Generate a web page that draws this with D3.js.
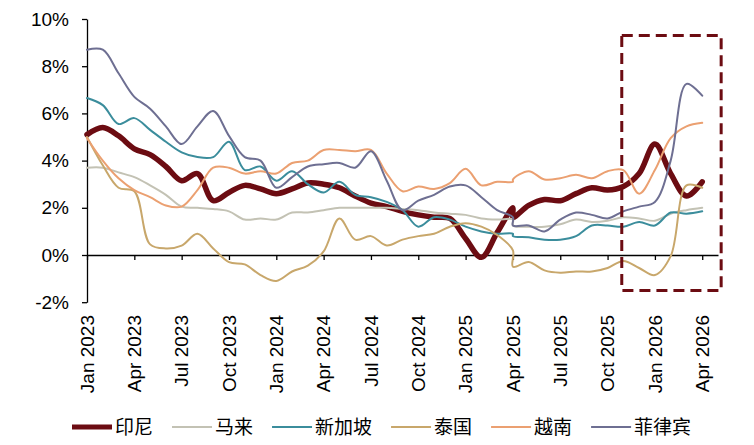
<!DOCTYPE html>
<html>
<head>
<meta charset="utf-8">
<script src="https://cdn.jsdelivr.net/npm/d3@7"></script>
<style>
  body { margin: 0; background: #fff; }
  svg text { font-family: "Liberation Sans", Arial, "Noto Sans CJK SC", sans-serif; fill: #000; }
  .legend text { font-family: "Noto Sans CJK SC", "Liberation Sans", sans-serif; }
</style>
</head>
<body>
<div id="chart"></div>
<script>
// months of the series; Apr 2025 appears twice (break between the two data runs)
const months = [
  "2023-01","2023-02","2023-03","2023-04","2023-05","2023-06","2023-07","2023-08","2023-09","2023-10","2023-11","2023-12",
  "2024-01","2024-02","2024-03","2024-04","2024-05","2024-06","2024-07","2024-08","2024-09","2024-10","2024-11","2024-12",
  "2025-01","2025-02","2025-03","2025-04","2025-04","2025-05","2025-06","2025-07","2025-08","2025-09","2025-10","2025-11","2025-12",
  "2026-01","2026-02","2026-03","2026-04"
];

const tickLabels = ["Jan 2023","Apr 2023","Jul 2023","Oct 2023","Jan 2024","Apr 2024","Jul 2024",
  "Oct 2024","Jan 2025","Apr 2025","Jul 2025","Oct 2025","Jan 2026","Apr 2026"];

const yTicks = [-2, 0, 2, 4, 6, 8, 10];

// values in %
const indonesia = [5.1,5.4,5.05,4.5,4.25,3.75,3.15,3.45,2.3,2.65,2.95,2.8,
  2.6,2.8,3.05,3.0,2.85,2.5,2.2,2.05,1.85,1.7,1.6,1.55,
  0.7,-0.1,0.95,2.0,1.6,2.1,2.35,2.3,2.6,2.85,2.75,2.9,3.45,
  4.7,3.45,2.5,3.1];
const malaysia = [3.7,3.7,3.5,3.3,2.95,2.55,2.05,2.0,1.95,1.85,1.5,1.55,
  1.5,1.8,1.8,1.9,2.0,2.0,2.0,2.0,1.95,1.9,1.8,1.75,
  1.7,1.55,1.5,1.5,1.25,1.2,1.2,1.3,1.5,1.4,1.45,1.6,1.55,
  1.45,1.75,1.9,2.0];
const singapore = [6.65,6.35,5.55,5.8,5.3,4.8,4.35,4.15,4.15,4.8,3.6,3.75,
  3.15,3.55,3.0,2.65,3.1,2.55,2.45,2.25,1.9,1.2,1.6,1.5,
  1.2,1.0,0.9,0.9,0.8,0.75,0.65,0.65,0.8,1.25,1.25,1.2,1.4,
  1.25,1.8,1.75,1.85];
const thailand = [5.0,3.8,2.85,2.7,0.45,0.28,0.4,0.9,0.28,-0.3,-0.4,-0.85,
  -1.1,-0.7,-0.45,0.15,1.55,0.65,0.8,0.4,0.65,0.8,0.9,1.2,
  1.35,1.2,0.85,0.2,-0.5,-0.3,-0.65,-0.75,-0.7,-0.7,-0.55,-0.25,-0.55,
  -0.85,-0.05,2.95,2.85];
const vietnam = [4.95,4.0,3.25,2.75,2.45,2.1,2.05,2.75,3.7,3.7,3.45,3.55,
  3.45,3.9,4.0,4.45,4.45,4.4,4.45,3.45,2.7,2.9,2.8,3.05,
  3.65,2.95,3.1,3.1,3.2,3.55,3.2,3.25,3.4,3.25,3.55,3.6,2.6,
  3.6,4.95,5.45,5.6];
const philippines = [8.7,8.7,7.7,6.7,6.2,5.45,4.7,5.45,6.1,5.05,4.15,4.0,
  2.85,3.3,3.75,3.85,3.9,3.7,4.4,3.15,1.9,2.3,2.55,2.9,
  2.95,2.45,1.9,1.6,1.25,1.25,1.0,1.5,1.8,1.7,1.55,1.85,2.05,
  2.25,4.0,7.25,6.75];

const seriesNames = ["印尼","马来","新加坡","泰国","越南","菲律宾"];
const seriesValues = [indonesia, malaysia, singapore, thailand, vietnam, philippines];
const seriesColors = ["#6c0c12","#c3c2b4","#3b8d9c","#c8a76b","#eba071","#6e6f92"];
const seriesWidths = [5.5, 2, 2, 2, 2, 2];

// highlighted window (month index / % units)
const highlight = { from: 33.9, to: 40.2, top: 9.3, bottom: -1.5 };

const width = 754, height = 445;

const svg = d3.select('#chart').append('svg')
  .attr('width', width)
  .attr('height', height);

const monthIndex = s => (+s.slice(0, 4) - 2023) * 12 + (+s.slice(5, 7) - 1);

const x = d3.scaleLinear().domain([0, 40]).range([87, 718]);
const y = d3.scaleLinear().domain([-2, 10]).range([302.2, 19]);

// y axis
const yAxis = svg.append('g')
  .attr('transform', `translate(${x(0)},0)`)
  .call(d3.axisLeft(y).tickValues(yTicks).tickSize(5).tickSizeOuter(0).tickPadding(13)
    .tickFormat(d => d + '%'));
yAxis.selectAll('text').style('font-size', '19px');

// x axis on the 0% line
const xAxis = svg.append('g')
  .attr('transform', `translate(0,${y(0)})`)
  .call(d3.axisBottom(x).tickValues(d3.range(0, 40, 3)).tickSize(5).tickSizeOuter(0).tickFormat(''));

svg.selectAll('.domain, .tick line').attr('stroke', '#000').attr('stroke-width', 1.3);

// x labels at the bottom, rotated
svg.append('g')
  .selectAll('text')
  .data(tickLabels)
  .enter()
  .append('text')
  .attr('transform', (d, i) => `translate(${x(i * 3)},315) rotate(-90)`)
  .attr('text-anchor', 'end')
  .attr('dy', '0.35em')
  .style('font-size', '19px')
  .text(d => d);

// lines
const line = d3.line()
  .x(d => x(d.m))
  .y(d => y(d.v))
  .curve(d3.curveCatmullRom.alpha(0.5));

seriesValues.forEach((vals, k) => {
  const pts = vals.map((v, i) => ({ m: monthIndex(months[i]), v: v }));
  svg.append('path')
    .datum(pts)
    .attr('d', line)
    .attr('fill', 'none')
    .attr('stroke', seriesColors[k])
    .attr('stroke-width', seriesWidths[k])
    .attr('stroke-linejoin', 'round')
    .attr('stroke-linecap', 'round');
});

// dashed highlight box
svg.append('rect')
  .attr('x', x(highlight.from))
  .attr('y', y(highlight.top))
  .attr('width', x(highlight.to) - x(highlight.from))
  .attr('height', y(highlight.bottom) - y(highlight.top))
  .attr('fill', 'none')
  .attr('stroke', '#6c0c12')
  .attr('stroke-width', 3)
  .attr('stroke-dasharray', '11,6');

// legend
const legend = svg.append('g').attr('class', 'legend');
let lx = 72;
seriesNames.forEach((name, k) => {
  legend.append('line')
    .attr('x1', lx).attr('x2', lx + 40)
    .attr('y1', 427).attr('y2', 427)
    .attr('stroke', seriesColors[k])
    .attr('stroke-width', k === 0 ? 5 : 2);
  const t = legend.append('text')
    .attr('x', lx + 43)
    .attr('y', 427)
    .attr('dy', '0.35em')
    .style('font-size', '19px')
    .text(name);
  lx += 43 + t.node().getComputedTextLength() + 19;
});
</script>
</body>
</html>
